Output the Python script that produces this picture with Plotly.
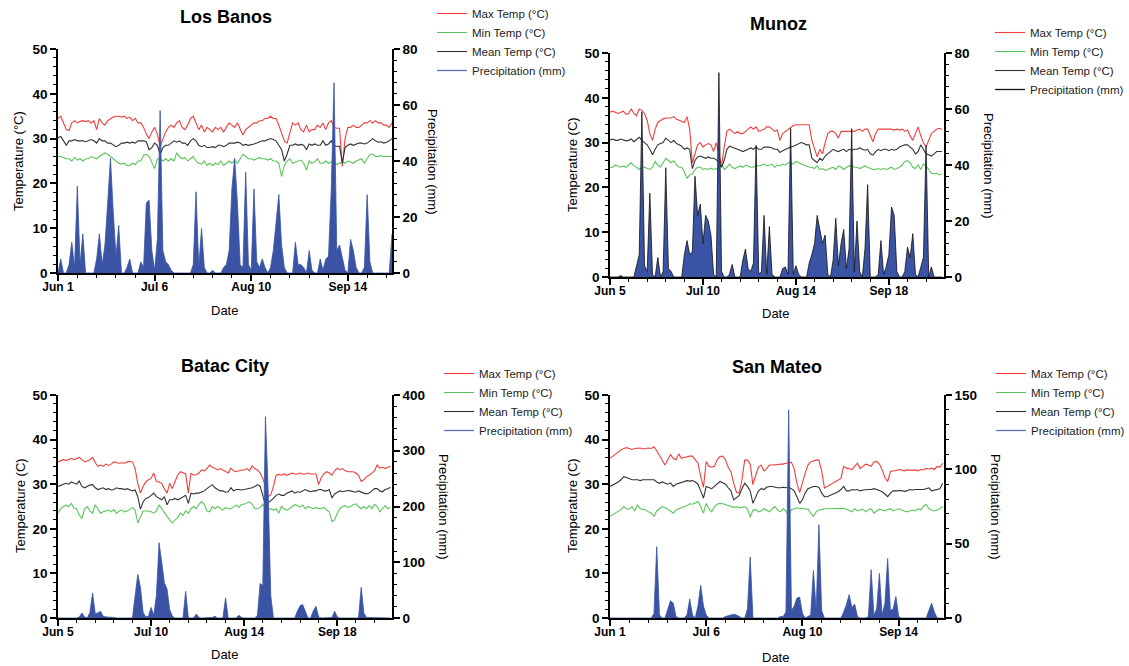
import plotly.graph_objects as go
import pandas as pd

W, H = 1129, 666
FONT = "Liberation Sans, Arial, Helvetica, sans-serif"

# ---------------- data ----------------
SERIES_NAMES = ["Max Temp (°C)", "Min Temp (°C)", "Mean Temp (°C)", "Precipitation (mm)"]
PANEL_TITLES = ["Los Banos", "Munoz", "Batac City", "San Mateo"]
TEMP_TITLES = ["Temperature (°C)", "Temperature (C)", "Temperature (C)", "Temperature (C)"]
PRECIP_TITLE = "Precipitation (mm)"
DATE_TITLE = "Date"

# Los Banos: daily, 1 Jun - 30 Sep
LB_START = "2021-06-01"
LB_END = "2021-09-30"
LB_TICKVALS = ["2021-06-01", "2021-07-06", "2021-08-10", "2021-09-14"]
LB_TICKTEXT = ["Jun 1", "Jul 6", "Aug 10", "Sep 14"]
LB_MAX = [34.5, 35, 33.5, 32, 31.8, 33.5, 34, 33.5, 33.8, 34,
          33.8, 34, 33.5, 34, 32, 34.5, 33.5, 33, 34, 34.5,
          34.8, 35, 35, 34.8, 35, 34.5, 34.8, 34, 34.5, 33.5,
          33.5, 32.5, 31, 30, 31.5, 32.5, 31, 28.3, 30, 31.5,
          32.5, 33, 32.5, 33.5, 34, 32.5, 32, 33, 34.5, 35,
          33.5, 32, 33, 31.5, 32.5, 32, 31.5, 32.5, 32, 32.5,
          31.5, 32.5, 33.5, 33, 32.5, 33.5, 32, 30.8, 32, 32.5,
          33, 33.5, 33.5, 34, 34, 34.5, 34.5, 35, 34.5, 34.5,
          33, 31, 29.5, 29, 31, 33.5, 33, 33.5, 32, 31.5,
          33, 31.5, 32, 32, 33, 32.5, 33.5, 32, 33.5, 34,
          32.5, 32.3, 32.3, 23.8, 30, 32.5, 32.5, 33, 32.5, 32.5,
          33, 33.5, 33.5, 34, 33.5, 34, 33.5, 33.5, 33, 33,
          32.5, 33.5]
LB_MIN = [26, 26, 25.8, 25.5, 25.5, 25, 25.8, 25.2, 25.5, 25,
          25.5, 25.5, 26, 25.8, 25.5, 26, 26.5, 26.8, 26.5, 26,
          25.5, 25, 24.5, 24.3, 24.5, 24, 24, 24.5, 24.2, 25,
          25, 26.3, 26.5, 26, 24.5, 23.3, 25.5, 25.5, 25, 25.5,
          25, 25.5, 25, 26.8, 26, 25.5, 25.8, 25, 25.5, 26,
          25, 24.5, 24.3, 25, 24, 24.5, 24, 24.5, 24.2, 25,
          24, 24.5, 25, 24.5, 25.2, 24.5, 25.5, 26.5, 26, 25.5,
          25.5, 25.2, 25.5, 25.8, 25.5, 25.5, 25.2, 25.5, 25, 25,
          24.5, 21.5, 24, 25, 25.5, 24.5, 24.8, 25, 25.2, 24.5,
          23, 25, 24.5, 24.8, 25.5, 24.5, 24.5, 25, 24.5, 24.8,
          24.5, 24.2, 24.5, 24.8, 24.5, 25, 24.8, 24.5, 25, 25.2,
          25.5, 24.5, 25.5, 26.5, 26.5, 26, 26, 26.2, 26, 26,
          26, 26]
LB_MEAN = [30.2, 30.5, 29.5, 28.5, 29.5, 29.5, 29.8, 29.5, 29.5, 29.5,
           29.3, 29.5, 29.8, 29.5, 29, 30, 29.5, 29.5, 29, 29,
           28.5, 28.2, 28.5, 29, 29, 29.2, 29, 29.2, 29, 29.5,
           29.5, 29.5, 29.3, 27.5, 28, 29, 28.5, 26.5, 28, 28.5,
           28.5, 29, 29.5, 29.2, 29.5, 29, 29, 28.5, 29.5, 30,
           29.5, 28.5, 28.2, 28.5, 28, 28, 28.2, 28, 28.5, 28.5,
           28.2, 28.5, 29, 29, 29, 29.2, 29, 28.5, 28.7, 28.5,
           28.6, 28.8, 29, 29.2, 29.5, 29.5, 29.8, 30, 29.8, 29.5,
           28.5, 27.5, 25, 26.5, 28.5, 28.5, 28.8, 28.5, 28.7, 28.5,
           27.5, 28.8, 28.5, 28.8, 28.5, 28.5, 29.5, 28.5, 28.8, 29.5,
           28.3, 28.3, 28.3, 24.5, 28, 28.5, 28.8, 28.5, 28.8, 29,
           29, 28.8, 29, 29.5, 30, 29.5, 29.2, 29.3, 29, 29.2,
           29.5, 30]
LB_PRECIP = [0, 5, 0, 0, 3, 11, 2, 31, 3, 14,
             0, 0, 0, 0, 5, 14, 3, 10, 25, 41,
             22, 6, 17, 0, 0, 2, 5, 0, 0, 0,
             4, 2, 25, 26, 8, 1, 12, 58, 8, 4,
             3, 1, 0, 0, 0, 0, 0, 0, 0, 3,
             29, 2, 16, 2, 0, 0, 1, 0, 0, 0,
             2, 3, 8, 30, 41, 25, 3, 2, 36, 3,
             1, 30, 4, 2, 5, 2, 0, 2, 8, 18,
             28, 10, 2, 0, 0, 0, 11, 3, 3, 2,
             0, 8, 1, 0, 0, 5, 1, 5, 6, 30,
             68, 8, 10, 5, 1, 0, 12, 8, 2, 0,
             0, 2, 28, 4, 0, 0, 0, 0, 0, 0,
             0, 14]

# Munoz: daily, 5 Jun - 8 Oct
MU_START = "2021-06-05"
MU_END = "2021-10-08 18:00"
MU_TICKVALS = ["2021-06-05", "2021-07-10", "2021-08-14", "2021-09-18"]
MU_TICKTEXT = ["Jun 5", "Jul 10", "Aug 14", "Sep 18"]
MU_MAX = [36.8, 37, 36.8, 36.5, 36.8, 37, 36.3, 36.5, 37.5, 36.5,
          36, 37.5, 37.2, 36.5, 35, 32, 30.5, 33, 34.5, 35,
          35.3, 35.5, 35.5, 35.5, 35.8, 35.2, 35, 34.8, 34.5, 35.8,
          33, 25.5, 27.5, 29.5, 30, 29, 29.5, 29.8, 29.5, 28,
          30, 27, 24.8, 29, 32.5, 33, 32.5, 32, 32.5, 32,
          32, 32.5, 33, 33.5, 33, 33.5, 32.5, 32.8, 33, 33.5,
          33.5, 33, 32.5, 32.8, 30.5, 32, 32.5, 33, 33.5, 33.8,
          34, 34, 34, 34, 34, 34, 30.5, 28.5, 26.8, 28.5,
          27.5, 30, 32, 32.5, 32.5, 32, 31, 32.5, 32.5, 32.5,
          32.5, 32.5, 32.5, 32.8, 33, 32.5, 33, 33, 31.5, 30.2,
          32, 33, 33, 33, 33, 33, 33, 32.8, 33, 32.8,
          33, 32.5, 32.8, 31.5, 30.5, 32, 33.5, 31.5, 30, 29,
          30.5, 32, 32.5, 33, 33.2, 33]
MU_MIN = [24.5, 24.5, 25, 24.8, 24.5, 24.8, 24.5, 25, 25.5, 24.8,
          24.5, 24, 24.5, 24.5, 24.2, 24, 24.5, 25.8, 25, 24.5,
          25.5, 26.5, 26, 25.5, 26, 25, 24.5, 24.5, 23.5, 22,
          22.8, 23, 24, 24.5, 24.5, 24, 24.2, 24, 24.3, 24,
          24.2, 24, 25.5, 24, 24.5, 25.2, 24.5, 24.2, 24.5, 24.8,
          24.5, 25, 24.8, 24.5, 24.5, 25, 24.8, 25, 25.2, 24.8,
          25, 25.2, 24.5, 25, 24.8, 25.2, 25, 25.5, 25.5, 25.2,
          25.8, 25.5, 25.2, 25, 24.8, 24.5, 24.5, 24.2, 24.8, 24,
          24.2, 23.8, 24, 24.2, 24.5, 24, 24.8, 24.5, 24, 24.5,
          24.8, 24.8, 24.5, 24.5, 24.2, 24.5, 24.8, 24.5, 24.2, 24,
          24, 24.2, 24, 24.2, 24, 24.2, 24.5, 24, 24.2, 24.5,
          25, 25.8, 26, 25.5, 24.5, 24.2, 25, 24, 25.2, 24.8,
          24, 23.2, 23, 23.2, 22.8, 23]
MU_MEAN = [30.6, 30.8, 30.5, 30.5, 30.8, 30.6, 30.4, 30.5, 30.8, 30.2,
           30.8, 31.2, 30.5, 30, 29.5, 28.5, 27.3, 28.5, 29.5, 29.8,
           30, 31, 30.5, 30, 30.5, 29.8, 29.5, 29.2, 28.5, 28.8,
           28.5, 24.2, 26, 26.8, 27, 26.8, 26.5, 26.8, 26.5, 26.5,
           26.2, 25.5, 24.5, 26, 28.5, 29.2, 29, 28.8, 28.5, 28.3,
           28, 28.2, 28.5, 28.8, 28.5, 29, 28.5, 28.5, 29, 29,
           29, 28.8, 28.5, 28.5, 27.8, 28.2, 28.5, 28.8, 29, 29.2,
           29.5, 29.8, 30, 29.8, 29.5, 29.5, 26.5, 26, 25.5, 26.5,
           26, 27, 27.5, 28, 28.5, 28.2, 28, 28.3, 28.5, 28,
           28.5, 28.3, 28.5, 28.5, 28.8, 28.5, 28.3, 28.5, 27.5, 27.2,
           28, 28.5, 28.2, 28.5, 28.5, 28.2, 28.5, 28.3, 28.5, 29,
           29.3, 29.5, 29.5, 29, 28.5, 27.5, 28, 29.5, 28.5, 27.5,
           27.3, 27, 27.5, 28, 28, 28]
MU_PRECIP = [0, 0, 0, 0, 0.5, 0, 0, 0, 0, 0,
             4, 8, 59, 4, 2, 30, 1, 0, 7, 0,
             2, 39, 3, 2, 0, 0, 0, 0, 8, 13,
             8, 9, 36, 22, 26, 12, 22, 20, 15, 1,
             0, 73, 2, 0, 0, 1, 4.5, 0, 0, 0,
             6, 10, 3, 2, 5, 47, 1, 2, 22, 1,
             18, 1, 0, 0, 0, 3, 3.6, 1, 53, 1,
             4, 1, 0, 0, 0, 5, 8, 12, 22, 17,
             12, 15, 1, 0, 6, 21, 4, 12, 17, 3,
             10, 53, 2, 20, 2, 0, 10, 33, 0, 0,
             0, 1, 13, 1, 3.6, 8, 25, 22, 2, 0,
             0, 2, 10.7, 7, 15.5, 1, 0, 3.5, 7, 47,
             0, 3.6, 0, 0, 0, 0]

# Batac City: daily, 5 Jun - 8 Oct
BC_START = "2021-06-05"
BC_END = "2021-10-08 14:00"
BC_TICKVALS = ["2021-06-05", "2021-07-10", "2021-08-14", "2021-09-18"]
BC_TICKTEXT = ["Jun 5", "Jul 10", "Aug 14", "Sep 18"]
BC_MAX = [35, 35.2, 35.5, 35.3, 35.5, 35.8, 35.5, 35.8, 36, 35.5,
          35, 35.2, 35.5, 36, 34.8, 34, 34.3, 34, 34.5, 34.2,
          34.5, 35, 34.8, 34.7, 34.8, 34.7, 35, 35.1, 35, 33.5,
          30.2, 28, 29.5, 30.5, 31, 31.3, 32.5, 30.6, 30.5, 30.2,
          29, 28, 30.2, 29, 30.6, 32, 32.8, 32.5, 32.3, 28,
          32.5, 32, 32.1, 32.5, 33.2, 33, 33.5, 34.3, 33.8, 33.6,
          33.2, 33.5, 33.2, 32.8, 32.5, 33.6, 33, 32.8, 33, 33.2,
          33.2, 33.5, 33, 34.1, 33.5, 33.2, 32.5, 31.3, 29.5, 27.2,
          27.6, 29.5, 32, 32.2, 32, 32.3, 32, 32.3, 32.5, 32.3,
          32.3, 32.5, 32.3, 32.3, 32.5, 32.3, 32.3, 32.3, 29.9, 31.5,
          32.3, 32.8, 32.5, 32, 33, 33.6, 33.2, 33.5, 33, 32.8,
          32.8, 32.8, 32.5, 32, 30.6, 31, 31.7, 32, 32.5, 33,
          34.3, 33.6, 33.8, 33.5, 33.8, 34]
BC_MIN = [23.5, 24.5, 25, 25.3, 25, 25.7, 24.6, 24.5, 23, 22.4,
          24.5, 25, 24, 23.5, 25.4, 24.5, 23.5, 23.8, 24, 24.2,
          23.8, 24.3, 23.5, 24, 24.2, 23.8, 24, 24.3, 24.8, 24.2,
          21.3, 22.5, 24, 24, 24, 23.8, 23.5, 24, 25.4, 24.5,
          23.5, 22.8, 22, 21.3, 22, 22.5, 23.5, 23, 24, 23.5,
          24.5, 25, 24.5, 25.5, 26.1, 25.5, 24, 23.8, 25, 24.5,
          25, 24.5, 24.2, 24.8, 24.5, 24.5, 25, 25.3, 24.8, 25.5,
          25.5, 25.8, 26.1, 25.5, 24.5, 24.5, 24.8, 25.5, 24.5, 24.2,
          24.5, 24.2, 24.5, 23.5, 25, 24.5, 24.2, 24.5, 25, 25.4,
          25.2, 24.8, 25.3, 24.5, 25, 24.8, 24.5, 24.8, 24.5, 24.5,
          24.8, 24.2, 23.8, 21.6, 22, 23.5, 24.5, 25, 25.2, 24.8,
          25, 25.4, 25.6, 25, 24.5, 25, 24.5, 25.2, 24.5, 25.5,
          25, 23.8, 24.5, 25.2, 24.5, 24.8]
BC_MEAN = [29.5, 29.8, 30, 30.2, 30, 30.5, 30.2, 30, 30.7, 29.5,
           29.2, 29.5, 29.8, 29.9, 29.2, 28.8, 29, 29.2, 28.8, 29,
           28.7, 28.8, 29.2, 29, 29, 28.8, 29, 28.8, 28.5, 28.7,
           27.2, 24.4, 26, 26.8, 27, 27.5, 28, 27.2, 26.8, 26.5,
           27.2, 25.4, 26.5, 26.5, 26.8, 26.5, 26.8, 27.2, 27.5, 25.7,
           28, 27.8, 28, 28, 28.2, 28.5, 29, 29.5, 29.9, 29.2,
           28.8, 28.5, 28.5, 28.2, 28.3, 29.2, 28.5, 28.8, 28.8, 28.7,
           28.8, 28.9, 29, 29.2, 29.5, 29.9, 29.5, 27.2, 25.4, 25.8,
           26.2, 26.8, 27.5, 27.8, 27.5, 27.5, 28, 28.2, 28.5, 28,
           28.3, 28.2, 28.5, 28.8, 28.5, 28.3, 28.5, 28.5, 28.8, 28.8,
           28.5, 28.5, 28.8, 26.9, 27.8, 28.2, 28.5, 28.3, 28.5, 28.6,
           28.5, 28.3, 28.2, 28.5, 28.2, 28, 27.8, 28, 28.5, 29,
           29, 28.5, 28.3, 28.8, 29, 29.3]
BC_PRECIP = [0, 0, 0, 0, 0, 0, 0, 0, 2, 9,
             2, 0, 10, 45, 8, 9, 12, 3, 2, 2,
             2, 1, 0, 0, 0, 0, 1, 0, 0, 40,
             78, 55, 10, 2, 3, 19, 5, 40, 135, 100,
             63, 52, 15, 3, 0, 0, 0, 0, 48, 0,
             0, 0, 7, 1, 0, 0, 0, 0, 1, 3,
             0, 0, 0, 36, 0, 0, 0, 0, 5, 1,
             0, 0, 0, 0, 0, 5, 62, 58, 361, 230,
             40, 0, 0, 0, 0, 0, 1, 1, 0, 0,
             12, 22, 24, 10, 0, 0, 13, 21, 2, 0,
             0, 0, 0, 1, 12, 2, 0, 0, 0, 0,
             0, 0, 0, 0, 55, 9, 1, 1, 0, 0,
             0, 0, 0, 0, 0, 0]

# San Mateo: daily, 1 Jun - 30 Sep
SM_START = "2021-06-01"
SM_END = "2021-09-30 12:00"
SM_TICKVALS = ["2021-06-01", "2021-07-06", "2021-08-10", "2021-09-14"]
SM_TICKTEXT = ["Jun 1", "Jul 6", "Aug 10", "Sep 14"]
SM_MAX = [35.8, 36.3, 36.8, 37.3, 37.7, 38, 38.2, 38, 37.8, 38,
          38, 38.1, 37.9, 38, 38.1, 38, 38.4, 37.5, 36.5, 35.5,
          34.3, 35.5, 36.6, 35.8, 35.5, 36.8, 35.8, 36, 36.2, 36.3,
          36.3, 35.5, 34.7, 31.7, 29.3, 35.1, 34, 33.8, 34, 35.5,
          36.2, 36.3, 35.5, 33.8, 32.8, 30.2, 28.2, 28, 31, 35.4,
          35.4, 34.5, 29.9, 32, 33.8, 34.3, 33, 33.5, 34.3, 34.3,
          34.3, 34.4, 34.5, 34.5, 34.7, 34.8, 34.9, 33.5, 30.2, 28.1,
          30.5, 32.5, 34.3, 35, 35.2, 35.4, 35.4, 33, 29.1, 29.5,
          29.8, 30.2, 30.6, 31, 31.3, 34, 33.6, 33.5, 33.2, 34,
          34.7, 33.5, 34, 34.5, 34.3, 34, 35, 35.1, 34.5, 33.2,
          31.5, 30.6, 32.8, 33, 33, 33.3, 33.2, 33, 33.2, 33.1,
          33.1, 33.2, 33, 33.3, 33.2, 33.5, 33.4, 33.6, 33.3, 34,
          33.8, 34.7]
SM_MIN = [22.8, 23.2, 23.5, 24, 24.3, 25, 24.5, 24.4, 25, 24,
          25.4, 24.5, 24.3, 24.2, 23.8, 23.5, 22.8, 24, 24.5, 25,
          24.7, 24.4, 24, 23.5, 24.2, 24.5, 24.7, 25, 25.2, 25.6,
          25.5, 25.8, 26.1, 25, 23.5, 25.7, 24.5, 23.8, 25, 25.5,
          25.7, 25.6, 25.4, 25.2, 25, 24.8, 25, 24.7, 24.8, 25,
          24.5, 22.6, 24.2, 24.3, 23.8, 24, 24.5, 24.2, 23.8, 24.5,
          25, 24.2, 23.8, 24.5, 24, 22.8, 24.3, 24.5, 24.7, 24.5,
          24.6, 24.4, 24.5, 23.5, 22.8, 23.8, 24.2, 24.3, 24.5, 24.5,
          24.5, 24.5, 24.5, 24.5, 24.5, 24.6, 24.4, 24, 23.8, 24.5,
          24, 24.2, 24.4, 23.8, 24.3, 24.5, 23.5, 24, 24.4, 24.2,
          24, 24.3, 24.5, 24, 24.2, 24.5, 24.2, 24, 23.8, 24,
          24.2, 24, 24.5, 24.2, 25, 25.5, 24.5, 24.2, 24, 24.2,
          24.5, 25]
SM_MEAN = [29.5, 29.8, 30.2, 30.5, 31, 31.7, 31.5, 31.3, 31, 31,
           31, 30.8, 31, 31, 31, 31, 31, 30.5, 30.2, 30.5,
           30.2, 30, 30.3, 29.5, 30, 30.2, 30.3, 30.5, 30.8, 30.7,
           30.8, 30.5, 30, 28.5, 26.9, 29.5, 29.2, 29, 29.5, 30,
           30.6, 30.3, 30, 29.2, 28.5, 26.5, 27, 27.5, 29, 30.2,
           29.5, 28.5, 25.7, 27, 28.5, 29, 28.8, 29.3, 29.5, 29.5,
           29.3, 29.2, 29.2, 29.3, 29.2, 29.3, 29, 28.5, 27.2, 25.7,
           26.5, 28, 29, 29.3, 29.5, 29.5, 29.3, 28, 27.2, 27.2,
           27.5, 27.8, 28, 28.3, 28.8, 29.5, 28.5, 28.5, 28.8, 28.7,
           28.8, 28.5, 28.7, 28.8, 28.8, 28.8, 29, 28.8, 28.5, 28.3,
           27.8, 27.2, 28, 28.5, 28.5, 28.5, 28.6, 28.4, 28.5, 28.8,
           28.7, 28.8, 28.8, 28.7, 28.8, 29, 29.2, 28.5, 28.7, 28.8,
           29, 30.2]
SM_PRECIP = [0, 0, 0, 0, 0, 0, 0, 0, 0, 0,
             0, 0, 0, 0, 0, 0, 3, 48, 2, 0,
             0, 6, 11.6, 10, 1, 0, 0, 0, 2, 12.8,
             2, 0, 8, 22, 8, 2, 0, 0, 0, 0,
             0, 0, 1, 1.5, 2, 2.5, 2, 1, 0, 0,
             6, 41, 0, 0, 0, 0, 0, 0, 0, 0,
             0, 0, 1, 1, 4, 140, 5, 8, 13.4, 14,
             3, 0, 1, 2, 32, 5, 62.7, 5, 0, 0,
             0, 0, 0, 0, 0, 4, 9, 15.7, 7, 9.4,
             1, 0, 0, 0, 1, 32.5, 2, 6, 30, 2,
             10, 40, 5, 6, 14.5, 1, 0, 0, 0, 0,
             0, 0, 0, 0, 0, 0, 5, 10, 4, 0,
             0, 0]

PRECIP_RANGE_MAX = [80, 80, 400, 150]
PRECIP_DTICK = [20, 20, 100, 50]
TEMP_RANGE_MAX = 50
TEMP_DTICK = 10

# ---------------- styling / layout ----------------
COL_MAX = "#ef3e3e"
COL_MIN = "#5cc45c"
COL_MEAN = "#333333"
COL_PRECIP = "#3a53a5"


def fx(px):
    return px / W


def fy(py):
    return 1 - py / H


panels = [
    dict(start=LB_START, end=LB_END, tv=LB_TICKVALS, tt=LB_TICKTEXT, mx=LB_MAX, mn=LB_MIN, me=LB_MEAN, pr=LB_PRECIP,
         box=(58, 49, 392, 273), legend=(432, -1), title=(226, 17), ytitle=(18, 161), ptitle=(433, 161),
         dtitle=(225, 310), pline="#3a53a5", pleg="#5b6fbf"),
    dict(start=MU_START, end=MU_END, tv=MU_TICKVALS, tt=MU_TICKTEXT, mx=MU_MAX, mn=MU_MIN, me=MU_MEAN, pr=MU_PRECIP,
         box=(610, 53, 944, 277), legend=(990, 18), title=(778, 24), ytitle=(572, 165), ptitle=(989, 165),
         dtitle=(775, 313), pline="#111111", pleg="#111111"),
    dict(start=BC_START, end=BC_END, tv=BC_TICKVALS, tt=BC_TICKTEXT, mx=BC_MAX, mn=BC_MIN, me=BC_MEAN, pr=BC_PRECIP,
         box=(58, 395, 392, 618), legend=(439, 359), title=(225, 366), ytitle=(20, 506), ptitle=(444, 506),
         dtitle=(224, 654), pline="#3a53a5", pleg="#5b6fbf"),
    dict(start=SM_START, end=SM_END, tv=SM_TICKVALS, tt=SM_TICKTEXT, mx=SM_MAX, mn=SM_MIN, me=SM_MEAN, pr=SM_PRECIP,
         box=(610, 395, 944, 618), legend=(991, 359), title=(777, 367), ytitle=(572, 506), ptitle=(996, 506),
         dtitle=(775, 657), pline="#3a53a5", pleg="#5b6fbf"),
]

fig = go.Figure()
layout = dict(width=W, height=H, margin=dict(l=0, r=0, t=0, b=0, pad=0, autoexpand=False),
              paper_bgcolor="white", plot_bgcolor="white", showlegend=True,
              font=dict(family=FONT, color="black"))
annotations = []

tick_bold = dict(family=FONT, size=13.5, color="black", weight="bold")
axis_base = dict(showline=True, linecolor="black", linewidth=1.5, ticks="outside", ticklen=6,
                 tickwidth=1.5, tickcolor="black", showgrid=False, zeroline=False, automargin=False)


def ann(text, px, py, size=13, bold=False, angle=0):
    annotations.append(dict(
        text=f"<b>{text}</b>" if bold else text, x=fx(px), y=fy(py), xref="paper", yref="paper",
        xanchor="center", yanchor="middle", showarrow=False, textangle=angle,
        font=dict(family=FONT, size=size, color="black")))


for i, p in enumerate(panels):
    k = i + 1
    xa = "x" if k == 1 else f"x{k}"
    ytn = 2 * i + 1
    ypn = 2 * i + 2
    yt = "y" if ytn == 1 else f"y{ytn}"
    yp = f"y{ypn}"
    leg = "legend" if k == 1 else f"legend{k}"
    x0, y0, x1, y1 = p["box"]

    dates_p = pd.date_range(p["start"], periods=len(p["pr"]), freq="D")

    for vals, name, col in ((p["mx"], SERIES_NAMES[0], COL_MAX),
                            (p["mn"], SERIES_NAMES[1], COL_MIN),
                            (p["me"], SERIES_NAMES[2], COL_MEAN)):
        d = pd.date_range(p["start"], periods=len(vals), freq="D")
        fig.add_trace(go.Scatter(x=d, y=vals, mode="lines", name=name,
                                 line=dict(color=col, width=1.1), xaxis=xa, yaxis=yt,
                                 legend=leg, hoverinfo="skip"))
    fig.add_trace(go.Scatter(x=dates_p, y=p["pr"], mode="lines", fill="tozeroy",
                             fillcolor=COL_PRECIP, line=dict(color=p["pline"], width=0.8),
                             xaxis=xa, yaxis=yp, showlegend=False, hoverinfo="skip"))
    fig.add_trace(go.Scatter(x=[None], y=[None], mode="lines", name=SERIES_NAMES[3],
                             line=dict(color=p["pleg"], width=1.3), xaxis=xa, yaxis=yp,
                             legend=leg))

    xkey = "xaxis" if k == 1 else f"xaxis{k}"
    ytkey = "yaxis" if ytn == 1 else f"yaxis{ytn}"
    ypkey = f"yaxis{ypn}"

    layout[xkey] = dict(axis_base, domain=[fx(x0), fx(x1)], anchor=yt, type="date",
                        range=[p["start"], p["end"]], tickmode="array", tickvals=p["tv"],
                        ticktext=p["tt"], tickfont=dict(tick_bold, size=12), ticklabelstandoff=-4,
                        minor=dict(tickmode="linear", tick0=p["start"], dtick=7 * 86400000,
                                   ticks="outside", ticklen=3.5, tickwidth=1, tickcolor="black",
                                   showgrid=False))
    layout[ytkey] = dict(axis_base, domain=[fy(y1), fy(y0)], anchor=xa, range=[0, TEMP_RANGE_MAX],
                         tickmode="linear", tick0=0, dtick=TEMP_DTICK, tickfont=tick_bold,
                         minor=dict(tickmode="linear", tick0=0, dtick=TEMP_DTICK / 5, ticks="outside",
                                    ticklen=3.5, tickwidth=1, tickcolor="black", showgrid=False))
    pd_tick = PRECIP_DTICK[i]
    layout[ypkey] = dict(axis_base, overlaying=yt, side="right", anchor=xa,
                         range=[0, PRECIP_RANGE_MAX[i]], tickmode="linear", tick0=0, dtick=pd_tick,
                         tickfont=tick_bold,
                         minor=dict(tickmode="linear", tick0=0, dtick=pd_tick / 5, ticks="outside",
                                    ticklen=3.5, tickwidth=1, tickcolor="black", showgrid=False))

    lx, ly = p["legend"]
    layout[leg] = dict(x=fx(lx), y=fy(ly), xanchor="left", yanchor="top", bgcolor="rgba(0,0,0,0)",
                       borderwidth=0, font=dict(family=FONT, size=11.5, color="#222222"),
                       itemwidth=30, traceorder="normal", tracegroupgap=0)

    ann(PANEL_TITLES[i], *p["title"], size=18, bold=True)
    ann(TEMP_TITLES[i], *p["ytitle"], size=13, angle=-90)
    ann(PRECIP_TITLE, *p["ptitle"], size=13, angle=90)
    ann(DATE_TITLE, *p["dtitle"], size=13)

layout["annotations"] = annotations
fig.update_layout(**layout)
fig.write_html("out.html")
